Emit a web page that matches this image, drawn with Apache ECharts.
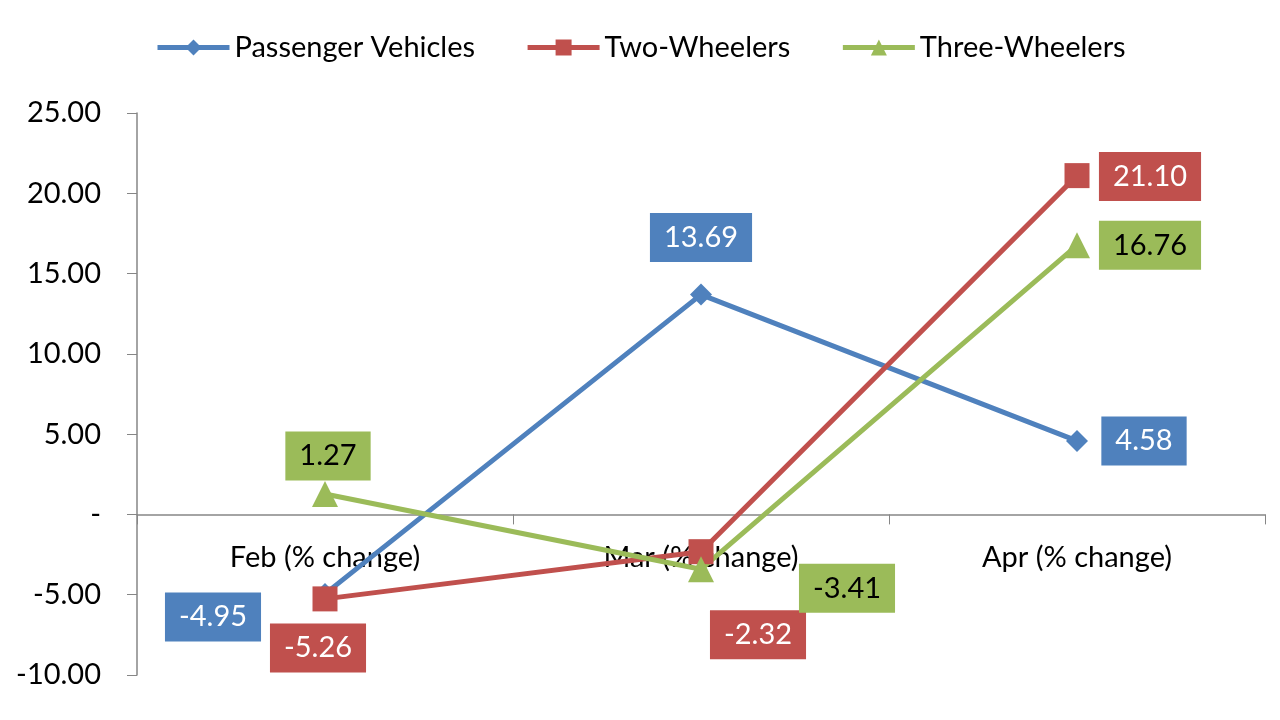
<!DOCTYPE html>
<html>
<head>
<meta charset="utf-8">
<script src="https://cdn.jsdelivr.net/npm/echarts@6/dist/echarts.min.js"></script>
<style>
  html, body { margin: 0; padding: 0; background: #fff; }
  #chart { width: 1280px; height: 720px; }
</style>
</head>
<body>
<div id="chart"></div>
<script>
const categories = ["Feb (% change)", "Mar (% change)", "Apr (% change)"];
const passengerVehicles = [-4.95, 13.69, 4.58];
const twoWheelers = [-5.26, -2.32, 21.1];
const threeWheelers = [1.27, -3.41, 16.76];

// where each data label box sits relative to its point
const pvLabelOffsets = [[-112, 23], [0, -57], [67, 0]];
const twLabelOffsets = [[-7, 49], [57, 83], [73, 1]];
const thLabelOffsets = [[3, -38], [146, 19], [73, 0]];

const fontFamily = "Lato, 'Open Sans', sans-serif";
const fontSize = 29;

const chart = echarts.init(document.getElementById("chart"));

function makeSeries(name, values, offsets, color, textColor, symbol, symbolSize) {
  return {
    name,
    type: "line",
    symbol,
    symbolSize,
    lineStyle: { width: 5, color },
    itemStyle: { color },
    data: values.map((v, i) => ({
      value: v,
      label: { offset: offsets[i] },
    })),
    label: {
      show: true,
      position: "inside",
      align: "center",
      verticalAlign: "middle",
      formatter: (p) => p.value.toFixed(2),
      backgroundColor: color,
      color: textColor,
      fontSize,
      fontFamily,
      padding: [11, 14, 9, 14],
    },
    emphasis: { disabled: true },
    z: 3,
  };
}

const option = {
  animation: false,
  legend: {
    top: 28,
    left: 150,
    itemWidth: 72,
    itemHeight: 20,
    itemGap: 50,
    lineStyle: { width: 5 },
    textStyle: { fontSize, fontFamily, color: "#000" },
    data: ["Passenger Vehicles", "Two-Wheelers", "Three-Wheelers"],
  },
  grid: { left: 137, right: 15, top: 113, bottom: 45, outerBoundsMode: "none" },
  xAxis: {
    type: "category",
    data: categories,
    offset: -160.6,
    axisLine: { onZero: false, lineStyle: { color: "#868686", width: 1.5 } },
    axisTick: { show: true, length: 10, lineStyle: { color: "#868686" } },
    axisLabel: { fontSize, fontFamily, color: "#000", margin: 29 },
  },
  yAxis: {
    type: "value",
    min: -10,
    max: 25,
    interval: 5,
    splitLine: { show: false },
    axisLine: { show: true, lineStyle: { color: "#868686", width: 1.5 } },
    axisTick: { show: true, length: 10, lineStyle: { color: "#868686" } },
    axisLabel: {
      fontSize,
      fontFamily,
      color: "#000",
      margin: 36,
      formatter: (v) => (v === 0 ? "-" : v.toFixed(2)),
    },
  },
  series: [
    makeSeries("Passenger Vehicles", passengerVehicles, pvLabelOffsets, "#4F81BD", "#fff", "diamond", 22),
    makeSeries("Two-Wheelers", twoWheelers, twLabelOffsets, "#C0504D", "#fff", "rect", 25),
    makeSeries("Three-Wheelers", threeWheelers, thLabelOffsets, "#9BBB59", "#000", "triangle", 26),
  ],
};

chart.setOption(option);
</script>
</body>
</html>
